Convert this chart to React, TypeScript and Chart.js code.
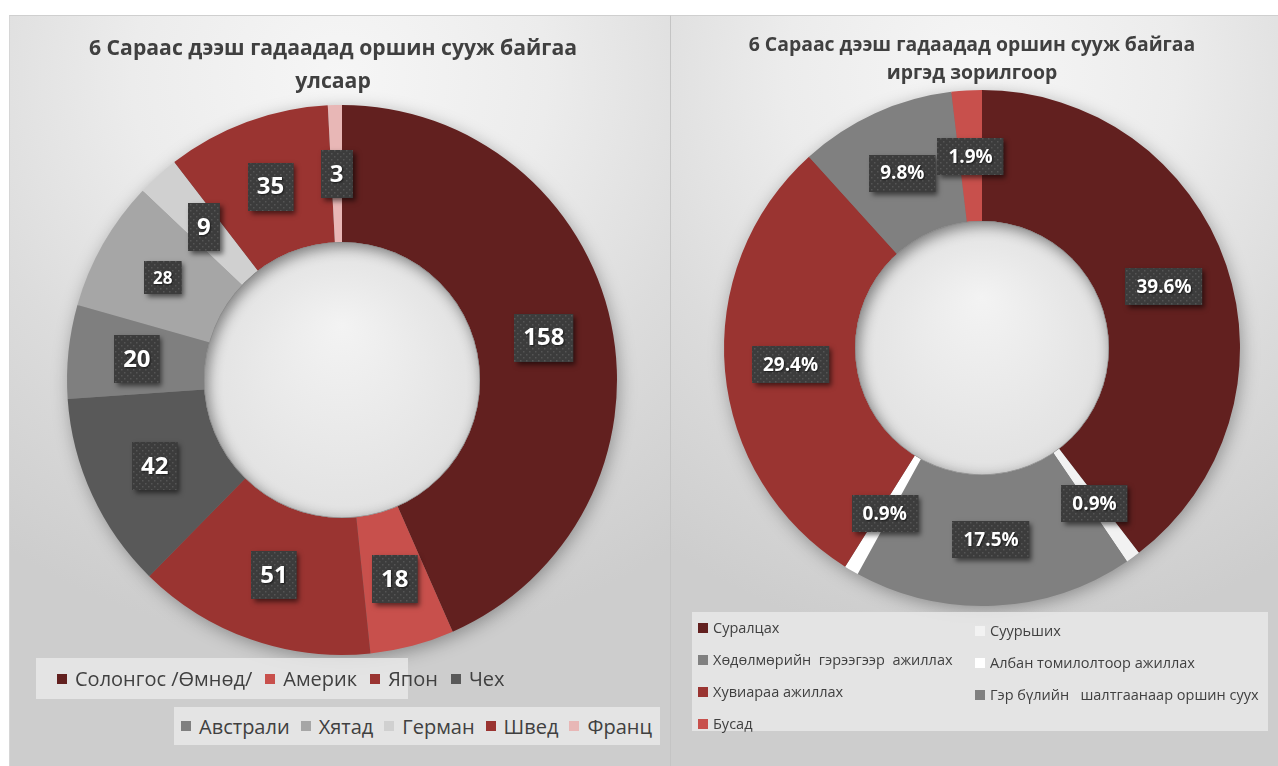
import React, { useEffect, useRef } from "react";
import { Chart, registerables } from "chart.js";
Chart.register(...registerables);

// ---------- Data ----------
const countryTitle = ["6 Сараас дээш гадаадад оршин сууж байгаа", "улсаар"];
const countryLabels = ["Солонгос /Өмнөд/", "Америк", "Япон", "Чех", "Австрали", "Хятад", "Герман", "Швед", "Франц"];
const countryValues = [158, 18, 51, 42, 20, 28, 9, 35, 3];
const countryColors = ["#62201f", "#c8504c", "#9a3431", "#595959", "#7f7f7f", "#a6a6a6", "#d0d0d0", "#9a3431", "#e8b7b6"];

const purposeTitle = ["6 Сараас дээш гадаадад оршин сууж байгаа", "иргэд зорилгоор"];
const purposeLabels = [
  "Суралцах",
  "Суурьших",
  "Хөдөлмөрийн  гэрээгээр  ажиллах",
  "Албан томилолтоор ажиллах",
  "Хувиараа ажиллах",
  "Гэр бүлийн   шалтгаанаар оршин суух",
  "Бусад",
];
const purposeValues = [39.6, 0.9, 17.5, 0.9, 29.4, 9.8, 1.9];
const purposeColors = ["#62201f", "#f2f2f2", "#808080", "#ffffff", "#9a3431", "#808080", "#c8504c"];

const FONT = "'Open Sans', 'Noto Sans', sans-serif";

// ---------- Plugins ----------
let dotPattern: CanvasPattern | null = null;
function getPattern(ctx: CanvasRenderingContext2D) {
  if (dotPattern) return dotPattern;
  const c = document.createElement("canvas");
  c.width = 6;
  c.height = 6;
  const g = c.getContext("2d")!;
  g.fillStyle = "#3c3c3c";
  g.fillRect(0, 0, 6, 6);
  g.fillStyle = "#555555";
  g.fillRect(1, 1, 1.5, 1.5);
  g.fillRect(4, 4, 1.5, 1.5);
  dotPattern = ctx.createPattern(c, "repeat");
  return dotPattern;
}

function ringShadowPlugin(holeFill: [string, string]) {
  return {
    id: "ringShadow",
    beforeDatasetsDraw(chart: any) {
      const arc = chart.getDatasetMeta(0).data[0];
      if (!arc) return;
      const { x, y, outerRadius } = arc.getProps(["x", "y", "outerRadius"], true);
      const ctx = chart.ctx;
      ctx.save();
      ctx.shadowColor = "rgba(0,0,0,0.35)";
      ctx.shadowBlur = 18;
      ctx.shadowOffsetX = 2;
      ctx.shadowOffsetY = 4;
      ctx.fillStyle = "#777";
      ctx.beginPath();
      ctx.arc(x, y, outerRadius - 1, 0, Math.PI * 2);
      ctx.fill();
      ctx.restore();
    },
    afterDatasetsDraw(chart: any) {
      const arc = chart.getDatasetMeta(0).data[0];
      if (!arc) return;
      const { x, y, innerRadius } = arc.getProps(["x", "y", "innerRadius"], true);
      const ctx = chart.ctx;
      ctx.save();
      const grad = ctx.createRadialGradient(x, y - innerRadius * 0.4, 0, x, y, innerRadius);
      grad.addColorStop(0, holeFill[0]);
      grad.addColorStop(1, holeFill[1]);
      ctx.fillStyle = grad;
      ctx.beginPath();
      ctx.arc(x, y, innerRadius + 0.5, 0, Math.PI * 2);
      ctx.fill();
      ctx.clip();
      ctx.shadowColor = "rgba(0,0,0,0.45)";
      ctx.shadowBlur = 14;
      ctx.shadowOffsetX = 3;
      ctx.shadowOffsetY = 4;
      ctx.strokeStyle = "#888";
      ctx.lineWidth = 40;
      ctx.beginPath();
      ctx.arc(x, y, innerRadius + 20, 0, Math.PI * 2);
      ctx.stroke();
      ctx.restore();
    },
  };
}

function boxLabelPlugin(format: (v: number) => string, fontSizeFor: (i: number) => number, padX: number, heightFor: (i: number) => number) {
  return {
    id: "boxLabels",
    afterDatasetsDraw(chart: any) {
      const ctx: CanvasRenderingContext2D = chart.ctx;
      const meta = chart.getDatasetMeta(0);
      const data = chart.data.datasets[0].data as number[];
      meta.data.forEach((arc: any, i: number) => {
        const p = arc.getProps(["x", "y", "startAngle", "endAngle", "innerRadius", "outerRadius"], true);
        const mid = (p.startAngle + p.endAngle) / 2;
        const r = (p.innerRadius + p.outerRadius) / 2;
        const cx = p.x + Math.cos(mid) * r;
        const cy = p.y + Math.sin(mid) * r;
        const text = format(data[i]);
        const fs = fontSizeFor(i);
        ctx.save();
        ctx.font = `bold ${fs}px ${FONT}`;
        const tw = ctx.measureText(text).width;
        const w = tw + padX * 2;
        const h = heightFor(i);
        const bx = Math.round(cx - w / 2);
        const by = Math.round(cy - h / 2);
        ctx.shadowColor = "rgba(0,0,0,0.55)";
        ctx.shadowBlur = 5;
        ctx.shadowOffsetX = 3;
        ctx.shadowOffsetY = 3;
        ctx.fillStyle = "#3c3c3c";
        ctx.fillRect(bx, by, w, h);
        ctx.shadowColor = "transparent";
        ctx.fillStyle = getPattern(ctx) || "#3c3c3c";
        ctx.fillRect(bx, by, w, h);
        ctx.shadowColor = "rgba(0,0,0,0.6)";
        ctx.shadowBlur = 2;
        ctx.shadowOffsetX = 1;
        ctx.shadowOffsetY = 1;
        ctx.fillStyle = "#ffffff";
        ctx.textAlign = "center";
        ctx.textBaseline = "middle";
        ctx.fillText(text, cx, cy + 1);
        ctx.restore();
      });
    },
  };
}

// ---------- Components ----------
function Donut(props: {
  values: number[];
  colors: string[];
  labels: string[];
  size: number;
  cutout: string;
  format: (v: number) => string;
  fontSizeFor: (i: number) => number;
  padX: number;
  heightFor: (i: number) => number;
  style: React.CSSProperties;
}) {
  const ref = useRef<HTMLCanvasElement>(null);
  useEffect(() => {
    if (!ref.current) return;
    const chart = new Chart(ref.current, {
      type: "doughnut",
      data: {
        labels: props.labels,
        datasets: [{ data: props.values, backgroundColor: props.colors, borderWidth: 0 }],
      },
      options: {
        responsive: false,
        animation: false,
        cutout: props.cutout,
        layout: { padding: 25 },
        plugins: { legend: { display: false }, tooltip: { enabled: false } },
      },
      plugins: [
        ringShadowPlugin(["#f3f3f3", "#e2e2e2"]) as any,
        boxLabelPlugin(props.format, props.fontSizeFor, props.padX, props.heightFor) as any,
      ],
    });
    return () => chart.destroy();
  }, []);
  return <canvas ref={ref} width={props.size} height={props.size} style={{ position: "absolute", ...props.style }} />;
}

const panelBg =
  "radial-gradient(ellipse 90% 75% at 50% 8%, #f6f6f6 0%, #ececec 35%, #dcdcdc 65%, #cdcdcd 100%)";

function Square({ color }: { color: string }) {
  return <span style={{ display: "inline-block", width: 10, height: 10, background: color, marginRight: 8 }} />;
}

export default function App() {
  return (
    <div style={{ position: "absolute", left: 0, top: 0, width: 1278, height: 766, overflow: "hidden", background: "#ffffff", fontFamily: FONT }}>
      {/* Left panel */}
      <div style={{ position: "absolute", left: 9, top: 15, width: 660, height: 760, background: panelBg, borderTop: "1px solid #cfcfcf", borderLeft: "1px solid #d6d6d6", borderRight: "1px solid #c4c4c4" }} />
      {/* Right panel */}
      <div style={{ position: "absolute", left: 670, top: 15, width: 620, height: 760, background: panelBg, borderTop: "1px solid #cfcfcf", borderLeft: "1px solid #c4c4c4" }} />

      <Donut
        values={countryValues}
        colors={countryColors}
        labels={countryLabels}
        size={600}
        cutout="50%"
        format={(v) => String(v)}
        fontSizeFor={(i) => (countryValues[i] === 28 ? 17 : 24)}
        padX={9}
        heightFor={(i) => (countryValues[i] === 28 ? 33 : 48)}
        style={{ left: 42, top: 80 }}
      />
      <Donut
        values={purposeValues}
        colors={purposeColors}
        labels={purposeLabels}
        size={566}
        cutout="49%"
        format={(v) => v.toFixed(1) + "%"}
        fontSizeFor={() => 19}
        padX={11}
        heightFor={() => 37}
        style={{ left: 699, top: 65 }}
      />

      {/* Titles */}
      <div style={{ position: "absolute", left: 9, top: 30, width: 660, textAlign: "center", fontWeight: 700, fontSize: 21.2, color: "#404040", lineHeight: "33px", paddingRight: 12, boxSizing: "border-box" }}>
        {countryTitle.map((t) => (
          <div key={t}>{t}</div>
        ))}
      </div>
      <div style={{ position: "absolute", left: 670, top: 30, width: 620, textAlign: "center", fontWeight: 700, fontSize: 19.4, color: "#404040", lineHeight: "28px", paddingRight: 16, boxSizing: "border-box" }}>
        {purposeTitle.map((t) => (
          <div key={t}>{t}</div>
        ))}
      </div>

      {/* Left legend */}
      <div style={{ position: "absolute", left: 36, top: 658, height: 41, width: 372, background: "rgba(232,232,232,0.85)", display: "flex", alignItems: "center", fontSize: 20, color: "#404040", whiteSpace: "pre", paddingLeft: 21, boxSizing: "border-box" }}>
        {countryLabels.slice(0, 4).map((l, i) => (
          <span key={l} style={{ display: "inline-flex", alignItems: "center", marginRight: 13 }}>
            <Square color={countryColors[i]} />
            {l}
          </span>
        ))}
      </div>
      <div style={{ position: "absolute", left: 174, top: 707, height: 38, width: 486, background: "rgba(232,232,232,0.85)", display: "flex", alignItems: "center", fontSize: 20, color: "#404040", whiteSpace: "pre", paddingLeft: 7, boxSizing: "border-box" }}>
        {countryLabels.slice(4).map((l, i) => (
          <span key={l} style={{ display: "inline-flex", alignItems: "center", marginRight: 11 }}>
            <Square color={countryColors[i + 4]} />
            {l}
          </span>
        ))}
      </div>

      {/* Right legend */}
      <div style={{ position: "absolute", left: 692, top: 612, width: 576, height: 119, background: "rgba(232,232,232,0.85)", display: "grid", gridTemplateColumns: "277px 299px", gridAutoRows: "32px", paddingTop: 0, paddingLeft: 6, boxSizing: "border-box", fontSize: 14.5, color: "#404040", whiteSpace: "pre" }}>
        {purposeLabels.map((l, i) => (
          <div key={l} style={{ display: "flex", alignItems: "center", marginTop: i % 2 === 1 ? 5 : -1 }}>
            <span style={{ display: "inline-block", width: 10, height: 10, background: purposeColors[i], marginRight: 5 }} />
            {l}
          </div>
        ))}
      </div>
    </div>
  );
}
